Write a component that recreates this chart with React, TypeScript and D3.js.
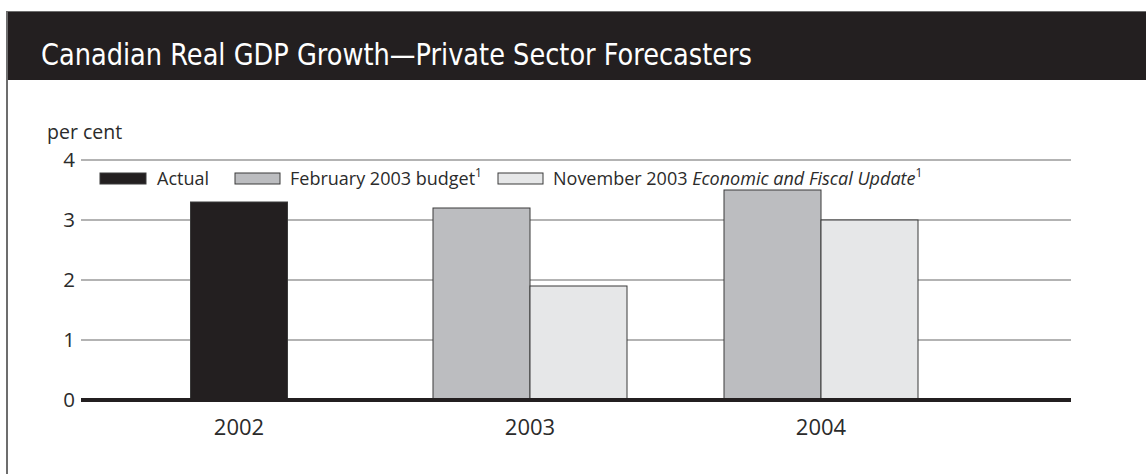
import React from "react";
import * as d3 from "d3";

const categories = ["2002", "2003", "2004"];
const actual: (number | null)[] = [3.3, null, null];
const feb2003Budget: (number | null)[] = [null, 3.2, 3.5];
const nov2003Update: (number | null)[] = [null, 1.9, 3.0];
const yTicks = [0, 1, 2, 3, 4];

const title = "Canadian Real GDP Growth\u2014Private Sector Forecasters";
const yLabel = "per cent";

const series = [
  { key: "actual", values: actual, fill: "#231f20" },
  { key: "feb", values: feb2003Budget, fill: "#bcbdc0" },
  { key: "nov", values: nov2003Update, fill: "#e6e7e8" },
];

const W = 1146;
const H = 474;
const plotLeft = 81;
const plotRight = 1071;
const y0px = 400;
const y4px = 160;
const barW = 97;
const font = "'Open Sans', 'Liberation Sans', sans-serif";
const textColor = "#2b2b2b";

export default function App() {
  const y = d3.scaleLinear().domain([0, 4]).range([y0px, y4px]);
  const x = d3.scaleBand<string>().domain(categories).range([93.5, 966.5]).padding(0);

  const bars: React.ReactNode[] = [];
  categories.forEach((cat, i) => {
    const present = series.filter((s) => s.values[i] != null);
    const center = (x(cat) ?? 0) + x.bandwidth() / 2;
    const inner = d3
      .scaleBand<string>()
      .domain(present.map((s) => s.key))
      .range([center - (present.length * barW) / 2, center + (present.length * barW) / 2]);
    present.forEach((s) => {
      const v = s.values[i] as number;
      bars.push(
        <rect
          key={cat + s.key}
          x={inner(s.key)}
          y={y(v)}
          width={inner.bandwidth()}
          height={y(0) - y(v)}
          fill={s.fill}
          stroke="#3a3a3a"
          strokeWidth={1}
        />
      );
    });
  });

  return (
    <svg
      width={W}
      height={H}
      style={{ position: "absolute", left: 0, top: 0, display: "block", background: "#fff" }}
    >
      {/* header */}
      <rect x={6} y={11} width={W - 6} height={69} fill="#231f20" />
      <line x1={6} x2={W} y1={11.5} y2={11.5} stroke="#6d6d6d" strokeWidth={1} />
      <line x1={7} x2={7} y1={11} y2={H} stroke="#6d6d6d" strokeWidth={2} />
      <text
        x={41}
        y={65}
        fill="#ffffff"
        fontFamily="'DejaVu Sans Condensed', 'DejaVu Sans', sans-serif"
        fontStretch="condensed"
        fontWeight={400}
        fontSize={30}
        textLength={711}
        lengthAdjust="spacingAndGlyphs"
      >
        {title}
      </text>

      {/* y label */}
      <text x={47} y={139} fontFamily={font} fontSize={19.5} fill={textColor}>
        {yLabel}
      </text>

      {/* gridlines */}
      {yTicks.filter((t) => t !== 0).map((t) => (
        <line key={t} x1={plotLeft} x2={plotRight} y1={y(t)} y2={y(t)} stroke="#9a9a9a" strokeWidth={1.5} />
      ))}
      {yTicks.map((t) => (
        <text
          key={"l" + t}
          x={75}
          y={y(t)}
          dy="0.35em"
          textAnchor="end"
          fontFamily={font}
          fontSize={20.5}
          fill={textColor}
        >
          {t}
        </text>
      ))}

      {bars}

      {/* baseline */}
      <line x1={plotLeft} x2={plotRight} y1={y(0)} y2={y(0)} stroke="#231f20" strokeWidth={4} />

      {/* x labels */}
      {categories.map((c) => (
        <text
          key={c}
          x={(x(c) ?? 0) + x.bandwidth() / 2}
          y={435}
          textAnchor="middle"
          fontFamily={font}
          fontSize={22}
          fill={textColor}
        >
          {c}
        </text>
      ))}

      {/* legend */}
      <g fontFamily={font} fontSize={18} fill={textColor}>
        <rect x={100} y={173} width={46} height={11} fill={series[0].fill} stroke="#3a3a3a" strokeWidth={1} />
        <text x={157} y={185}>Actual</text>
        <rect x={235} y={173} width={45} height={11} fill={series[1].fill} stroke="#3a3a3a" strokeWidth={1} />
        <text x={290} y={185}>
          February 2003 budget
          <tspan dy={-8} fontSize={12}>1</tspan>
        </text>
        <rect x={498} y={173} width={45} height={11} fill={series[2].fill} stroke="#3a3a3a" strokeWidth={1} />
        <text x={553} y={185}>
          November 2003 <tspan fontStyle="italic">Economic and Fiscal Update</tspan>
          <tspan dy={-8} fontSize={12}>1</tspan>
        </text>
      </g>
    </svg>
  );
}
